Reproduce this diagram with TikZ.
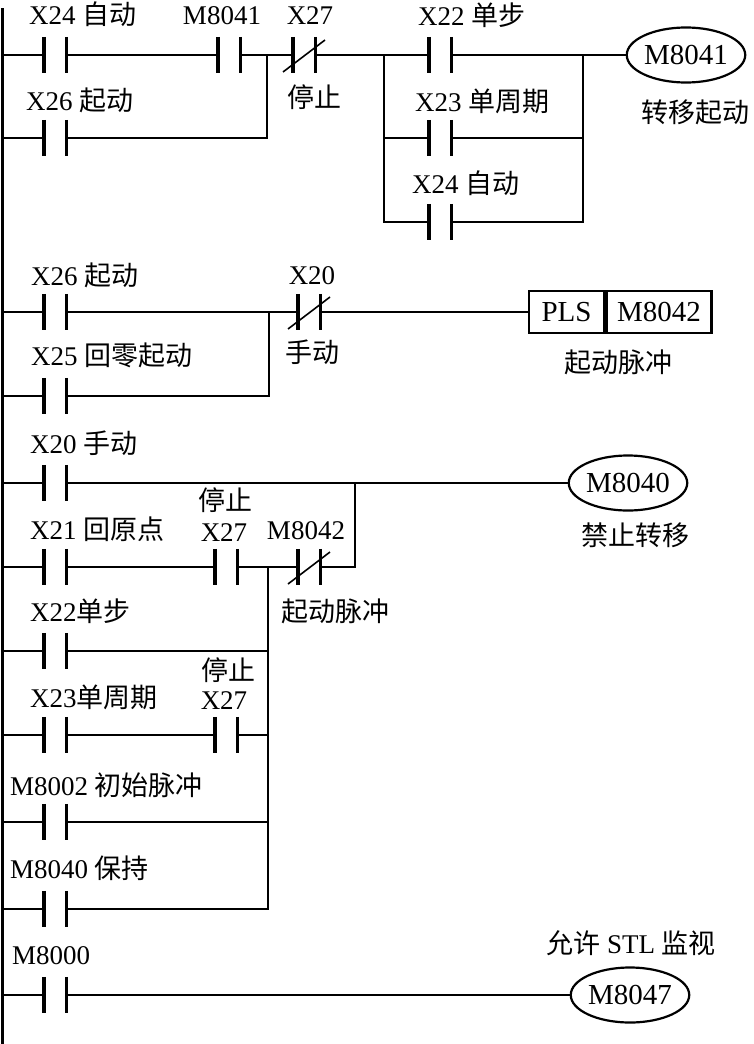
\documentclass[tikz,border=0pt]{standalone}
\usepackage{fontspec}
\setmainfont{Liberation Serif}
\newfontfamily\cjk{Noto Sans CJK SC}
\newcommand{\zh}[1]{{\cjk #1}}
\usetikzlibrary{shapes.geometric}

\begin{document}
\begin{tikzpicture}[x=1pt,y=-1pt,font=\fontsize{27}{30}\selectfont]
  \tikzset{ ct/.style={inner sep=0pt,minimum width=22pt,minimum height=36pt},
    coil/.style={ellipse,draw,line width=2.2pt,inner sep=0pt,minimum width=114pt,minimum height=55pt,
      font=\fontsize{29}{30}\selectfont},
    fb/.style={rectangle,draw,line width=2.6pt,inner sep=0pt,minimum height=42pt,
      font=\fontsize{29}{30}\selectfont},
    wire/.style={line width=1.6pt},
    plate/.style={line width=3.4pt},
    rail/.style={line width=3pt},
    lbl/.style={anchor=base west,inner sep=0pt},
    lblc/.style={anchor=base,inner sep=0pt},
  }
  \useasboundingbox (0,0) rectangle (754,1044);

  % left rail
  \coordinate (rtop) at (2.5,8);
  \coordinate (rbot) at (2.5,1044);
  \draw[rail] (rtop) -- (rbot);

  % contacts
  \foreach \n/\x/\y in {x24a/55/55, m8041c/229/55, x27a/304/55, x26a/55/138,
      x22a/440/55, x23a/440/138, x24b/440/222,
      x26b/55/312, x25/55/396, x20a/309/312,
      x20b/55/483, x21/55/567, x27b/226/567, m8042c/309/567, x22b/55/651,
      x23b/55/735, x27c/226/735, m8002/55/822, m8040c/55/909, m8000/55/995}
    \node[ct] (\n) at (\x,\y) {};
  \foreach \n in {x24a,m8041c,x27a,x26a,x22a,x23a,x24b,x26b,x25,x20a,x20b,x21,
      x27b,m8042c,x22b,x23b,x27c,m8002,m8040c,m8000}
    \draw[plate] (\n.north west) -- (\n.south west) (\n.north east) -- (\n.south east);
  \foreach \n in {x27a,x20a,m8042c}
    \draw[wire] ([shift={(-21,17)}]\n.center) -- ([shift={(21,-15)}]\n.center);

  % coils and function box
  \node[coil] (k8041) at (686,55) {M8041};
  \node[coil] (k8040) at (628,483) {M8040};
  \node[coil] (k8047) at (630,995) {M8047};
  \node[fb,minimum width=75pt] (pls) at (566.5,312) {PLS};
  \node[fb,minimum width=105pt,anchor=west] (plsm) at (pls.east) {M8042};

  % junctions
  \coordinate (j1a) at (267,55);
  \coordinate (j1c) at (384,55);
  \coordinate (j1d) at (583,55);
  \coordinate (j2) at (269,312);
  \coordinate (j3) at (355,483);
  \coordinate (j3b) at (268,567);

  % the connection between the contacts
  \foreach \n in {x24a,x26a,x26b,x25,x20b,x21,x22b,x23b,m8002,m8040c,m8000}
    \draw[wire] (\n.west) -- (\n.west -| rtop);
  \draw[wire] (x24a) -- (m8041c) -- (x27a) -- (j1c) -- (x22a) -- (j1d) -- (k8041);
  \draw[wire] (x26a.east) -| (j1a);
  \draw[wire] (x23a.west) -| (j1c);
  \draw[wire] (x24b.west) -| (j1c);
  \draw[wire] (x23a.east) -| (j1d);
  \draw[wire] (x24b.east) -| (j1d);
  \draw[wire] (x26b) -- (x20a) -- (pls);
  \draw[wire] (x25.east) -| (j2);
  \draw[wire] (x20b) -- (k8040);
  \draw[wire] (x21) -- (x27b) -- (m8042c);
  \draw[wire] (m8042c.east) -| (j3);
  \draw[wire] (x23b) -- (x27c);
  \draw[wire] (x22b.east) -| (j3b);
  \draw[wire] (x27c.east) -| (j3b);
  \draw[wire] (m8002.east) -| (j3b);
  \draw[wire] (m8040c.east) -| (j3b);
  \draw[wire] (m8000) -- (k8047);

  % labels
  \node[lbl] (t1) at (29,24) {X24 \zh{自动}};
  \node[lblc] (t2) at (222,24) {M8041};
  \node[lblc] (t3) at (310,24) {X27};
  \node[lblc] (t4) at (314,107) {\zh{停止}};
  \node[lbl] (t5) at (26,110) {X26 \zh{起动}};
  \node[lbl] (t6) at (418,25) {X22 \zh{单步}};
  \node[lbl] (t7) at (415,111) {X23 \zh{单周期}};
  \node[lbl] (t8) at (412,193) {X24 \zh{自动}};
  \node[lblc] (t9) at (695,122) {\zh{转移起动}};
  \node[lbl] (t10) at (31,285) {X26 \zh{起动}};
  \node[lblc] (t11) at (312,284) {X20};
  \node[lblc] (t12) at (312,362) {\zh{手动}};
  \node[lbl] (t13) at (31,365) {X25 \zh{回零起动}};
  \node[lblc] (t14) at (618,372) {\zh{起动脉冲}};
  \node[lbl] (t15) at (30,453) {X20 \zh{手动}};
  \node[lblc] (t16) at (225,510) {\zh{停止}};
  \node[lbl] (t17) at (30,539) {X21 \zh{回原点}};
  \node[lblc] (t18) at (224,541) {X27};
  \node[lblc] (t19) at (306,539) {M8042};
  \node[lblc] (t20) at (335,621) {\zh{起动脉冲}};
  \node[lblc] (t21) at (635,545) {\zh{禁止转移}};
  \node[lbl] (t22) at (30,621) {X22\zh{单步}};
  \node[lblc] (t23) at (228,680) {\zh{停止}};
  \node[lbl] (t24) at (30,707) {X23\zh{单周期}};
  \node[lblc] (t25) at (224,709) {X27};
  \node[lbl] (t26) at (10,795) {M8002 \zh{初始脉冲}};
  \node[lbl] (t27) at (10,878) {M8040 \zh{保持}};
  \node[lbl] (t28) at (12,964) {M8000};
  \node[lblc] (t29) at (631,953) {\zh{允许} STL \zh{监视}};
\end{tikzpicture}
\end{document}
